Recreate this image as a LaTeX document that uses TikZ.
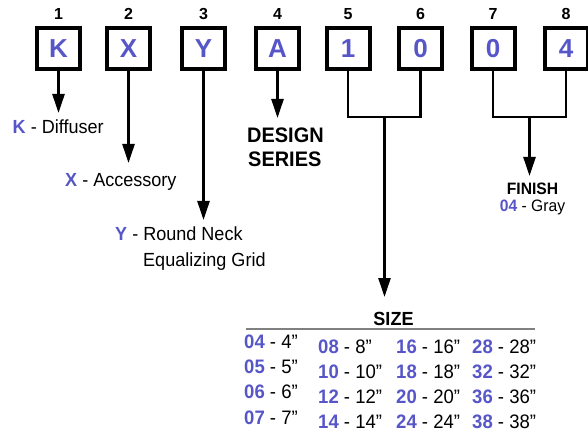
\documentclass[tikz,border=0pt]{standalone}
\usepackage{fontspec}
\setmainfont[FakeStretch=0.95]{Liberation Sans}
\newfontfamily\plainfont{Liberation Sans}
\usetikzlibrary{arrows.meta}
\definecolor{codeblue}{HTML}{5656C8}
\definecolor{rulegray}{HTML}{808080}
\newcommand\cd[1]{\textcolor{codeblue}{\bfseries #1}}
\begin{document}
\begin{tikzpicture}[x=1pt,y=-1pt,
  box/.style={draw, line width=4pt, minimum width=43pt, minimum height=41pt, inner sep=0pt,
    font=\plainfont\fontsize{26}{26}\selectfont\bfseries, text=codeblue},
  num/.style={font=\plainfont\fontsize{16}{16}\selectfont\bfseries, anchor=base, inner sep=0pt},
  conn/.style={line width=2.5pt},
  arr/.style={conn, -{Triangle[length=19pt,width=12pt]}},
  lbl/.style={font=\fontsize{19}{19}\selectfont, anchor=base west, inner sep=0pt},
  tbl/.style={font=\fontsize{19.5}{19.5}\selectfont, anchor=base west, inner sep=0pt},
  head/.style={font=\fontsize{19}{19}\selectfont\bfseries, inner sep=0pt}
]
\useasboundingbox (0,0) rectangle (588,435);

% boxes
\node[box] (b1) at (58.5,48.5) {K};
\node[box] (b2) at (128.5,48.5) {X};
\node[box] (b3) at (203.5,48.5) {Y};
\node[box] (b4) at (277.5,48.5) {A};
\node[box] (b5) at (348,48.5) {1};
\node[box] (b6) at (420.5,48.5) {0};
\node[box] (b7) at (493,48.5) {0};
\node[box] (b8) at (566,48.5) {4};

% position numbers
\node[num] (n1) at (58.5,20) {1};
\node[num] (n2) at (128.5,20) {2};
\node[num] (n3) at (203.5,20) {3};
\node[num] (n4) at (277.5,20) {4};
\node[num] (n5) at (348,20) {5};
\node[num] (n6) at (420.5,20) {6};
\node[num] (n7) at (493,20) {7};
\node[num] (n8) at (566,20) {8};

% arrow tips and junctions
\coordinate (tK) at (58.5,113);
\coordinate (tX) at (128.5,163);
\coordinate (tY) at (203.5,220);
\coordinate (tA) at (277.5,118);
\coordinate (m56) at (384.5,117);
\coordinate (tS) at (384.5,297);
\coordinate (m78) at (529.5,117);
\coordinate (tF) at (529.5,176);

\draw[arr] (b1.south) -- (tK);
\draw[arr] (b2.south) -- (tX);
\draw[arr] (b3.south) -- (tY);
\draw[arr] (b4.south) -- (tA);
\draw[conn] (b5.south) |- (m56) -| (b6.south);
\draw[arr] (m56) -- (tS);
\draw[conn] (b7.south) |- (m78) -| (b8.south);
\draw[arr] (m78) -- (tF);

% labels
\node[lbl] (lK) at (12.5,134) {\cd{K} - Diffuser};
\node[lbl] (lX) at (65,187) {\cd{X} - Accessory};
\node[lbl] (lY) at (115,241) {\cd{Y} - Round Neck};
\node[lbl] (lY2) at (143,267) {Equalizing Grid};
\node[head, font=\fontsize{21}{21}\selectfont\bfseries, anchor=base west] (lA) at (247,143) {DESIGN};
\node[head, font=\fontsize{21}{21}\selectfont\bfseries, anchor=base west] (lA2) at (248,167) {SERIES};
\node[head, font=\fontsize{16.5}{16.5}\selectfont\bfseries, anchor=base] (lF) at (532.5,195) {FINISH};
\node[lbl, font=\fontsize{16.5}{16.5}\selectfont, anchor=base] (lF2) at (532.5,212) {\cd{04} - Gray};

% size table
\node[head, anchor=base] (lS) at (393.5,325) {SIZE};
\draw[rulegray, line width=2pt] (246,329) -- (535,329);

\node[tbl] (s1) at (244,348.5) {\cd{04} - 4”};
\node[tbl] (s2) at (244,373.5) {\cd{05} - 5”};
\node[tbl] (s3) at (244,398.5) {\cd{06} - 6”};
\node[tbl] (s4) at (244,424) {\cd{07} - 7”};

\node[tbl] (s5) at (318,353) {\cd{08} - 8”};
\node[tbl] (s6) at (318,378) {\cd{10} - 10”};
\node[tbl] (s7) at (318,403) {\cd{12} - 12”};
\node[tbl] (s8) at (318,428.5) {\cd{14} - 14”};

\node[tbl] (s9) at (396,353) {\cd{16} - 16”};
\node[tbl] (s10) at (396,378) {\cd{18} - 18”};
\node[tbl] (s11) at (396,403) {\cd{20} - 20”};
\node[tbl] (s12) at (396,428.5) {\cd{24} - 24”};

\node[tbl] (s13) at (472,353) {\cd{28} - 28”};
\node[tbl] (s14) at (472,378) {\cd{32} - 32”};
\node[tbl] (s15) at (472,403) {\cd{36} - 36”};
\node[tbl] (s16) at (472,428.5) {\cd{38} - 38”};
\end{tikzpicture}
\end{document}
